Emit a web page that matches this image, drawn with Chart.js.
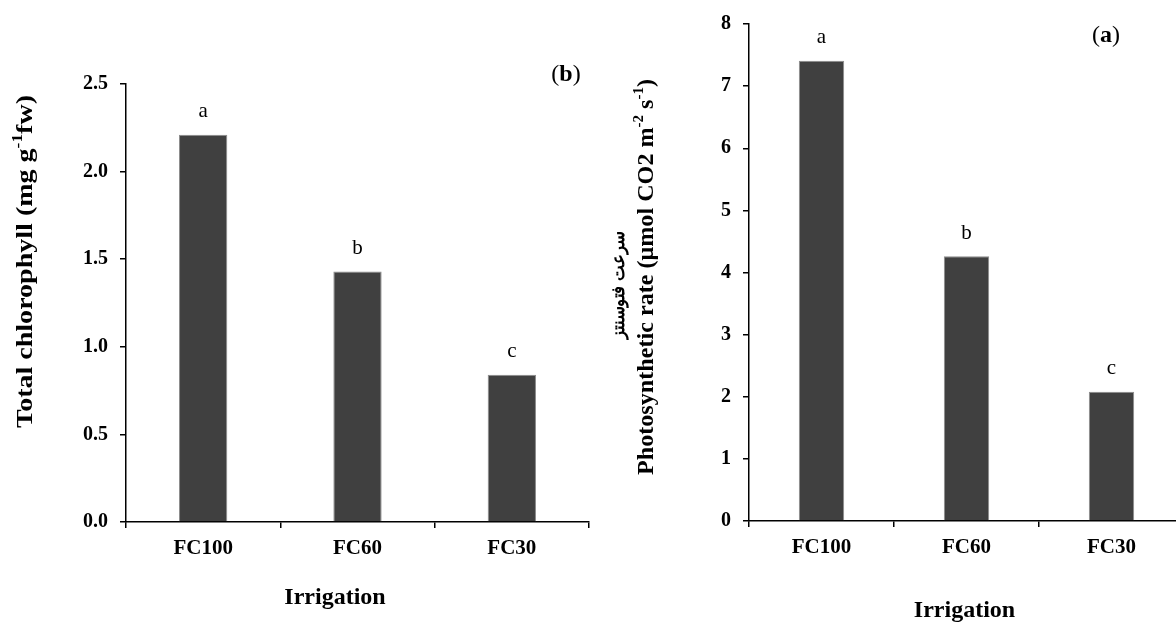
<!DOCTYPE html>
<html><head><meta charset="utf-8">
<script src="https://cdn.jsdelivr.net/npm/chart.js@4"></script>
<style>
html,body{margin:0;padding:0;background:#fff;overflow:hidden;width:1176px;height:623px;position:relative;}
.panel{position:absolute;top:0;width:600px;height:623px;}
#pl{left:0}
#pr{left:600px}
canvas{display:block}
</style></head><body>
<div class="panel" id="pl"><canvas id="cl" width="600" height="623"></canvas></div>
<div class="panel" id="pr"><canvas id="cr" width="600" height="623"></canvas></div>
<script>
// ---- data ----
const categories = ['FC100', 'FC60', 'FC30'];
const chlorophyll = [2.21, 1.43, 0.84];
const chlorophyllLetters = ['a', 'b', 'c'];
const photosynthesis = [7.41, 4.26, 2.08];
const photosynthesisLetters = ['a', 'b', 'c'];
const chlorophyllMax = 2.5, chlorophyllStep = 0.5;
const photoMax = 8, photoStep = 1;
const xTitle = 'Irrigation';
const chlTitle = [{t:'Total chlorophyll (mg g'}, {t:'-1', sup:true}, {t:'fw)'}];
const photoTitle = [{t:'Photosynthetic rate (\u03bcmol CO2 m'}, {t:'-2', sup:true}, {t:' s'}, {t:'-1', sup:true}, {t:')'}];
const photoTitleFa = 'سرعت فتوسنتز';

const FONT = "'Liberation Serif', 'Times New Roman', 'DejaVu Serif', serif";

// draws text centred at (cx, baseline cy); optional target length stretches along the text direction
function drawRich(ctx, parts, cx, cy, size, rotate, bold, targetLen) {
  ctx.save();
  ctx.translate(cx, cy);
  if (rotate) ctx.rotate(-Math.PI / 2);
  const w = bold ? 'bold ' : '';
  let total = 0;
  parts.forEach(p => {
    const s = p.sup ? size * 0.62 : size;
    ctx.font = (p.bold === false ? '' : w) + s + 'px ' + FONT;
    p.w = ctx.measureText(p.t).width;
    total += p.w;
  });
  if (targetLen) ctx.scale(targetLen / total, 1);
  let x = -total / 2;
  ctx.textBaseline = 'alphabetic';
  ctx.textAlign = 'left';
  ctx.fillStyle = '#000';
  parts.forEach(p => {
    const s = p.sup ? size * 0.62 : size;
    ctx.font = (p.bold === false ? '' : w) + s + 'px ' + FONT;
    ctx.fillText(p.t, x, p.sup ? -size * 0.42 : 0);
    x += p.w;
  });
  ctx.restore();
}

function letterPlugin(letters) {
  return {
    id: 'letters',
    afterDatasetsDraw(chart) {
      const ctx = chart.ctx;
      const meta = chart.getDatasetMeta(0);
      ctx.save();
      ctx.font = '21px ' + FONT;
      ctx.fillStyle = '#000';
      ctx.textAlign = 'center';
      ctx.textBaseline = 'alphabetic';
      meta.data.forEach((bar, i) => ctx.fillText(letters[i], bar.x, bar.y - 17.5));
      ctx.restore();
    }
  };
}

function makeChart(canvas, values, letters, cfg) {
  return new Chart(canvas, {
    type: 'bar',
    data: {
      labels: categories,
      datasets: [{
        data: values,
        backgroundColor: '#404040',
        borderColor: '#8c8c8c',
        borderWidth: 1,
        barPercentage: 0.313,
        categoryPercentage: 1
      }]
    },
    options: {
      responsive: false,
      animation: false,
      events: [],
      layout: {padding: {left: 0, right: cfg.padRight, top: cfg.top, bottom: cfg.padBottom}},
      plugins: {legend: {display: false}, tooltip: {enabled: false}},
      scales: {
        x: {
          offset: true,
          grid: {offset: true, drawOnChartArea: false, drawTicks: true, tickLength: 6, color: '#000', lineWidth: 1.5},
          border: {display: true, color: '#000', width: 1.5},
          ticks: {color: '#000', font: {family: FONT, size: 21, weight: 'bold'}, padding: 8, maxRotation: 0},
          afterFit: s => { s.height = 40; }
        },
        y: {
          min: 0, max: cfg.max,
          grid: {drawOnChartArea: false, drawTicks: true, tickLength: 6, color: '#000', lineWidth: 1.5},
          border: {display: true, color: '#000', width: 1.5},
          ticks: {stepSize: cfg.step, color: '#000', font: {family: FONT, size: 20, weight: 'bold'}, padding: 12,
                  callback: v => v.toFixed(cfg.decimals)},
          afterFit: s => { s.width = cfg.axisWidth; }
        }
      }
    },
    plugins: [letterPlugin(letters), {
      id: 'titles',
      afterDraw(chart) { cfg.drawTitles(chart.ctx, chart); }
    }]
  });
}

makeChart(document.getElementById('cl'), chlorophyll, chlorophyllLetters, {
  max: chlorophyllMax, step: chlorophyllStep, decimals: 1,
  axisWidth: 126, padRight: 11, top: 84, padBottom: 623 - 522 - 40,
  drawTitles(ctx, chart) {
    drawRich(ctx, chlTitle, 32, 261.5, 24, true, true, 333);
    drawRich(ctx, [{t: xTitle}], 335, 604, 24, false, true);
    drawRich(ctx, [{t:'(', bold:false}, {t:'b'}, {t:')', bold:false}], 566, 81, 24, false, true);
  }
});

makeChart(document.getElementById('cr'), photosynthesis, photosynthesisLetters, {
  max: photoMax, step: photoStep, decimals: 0,
  axisWidth: 149, padRight: 16, top: 24, padBottom: 623 - 521 - 40,
  drawTitles(ctx, chart) {
    drawRich(ctx, [{t: photoTitleFa}], 24, 285, 18, true, true, 108);
    drawRich(ctx, photoTitle, 53, 277, 24, true, true, 396);
    drawRich(ctx, [{t: xTitle}], 364.5, 617, 24, false, true);
    drawRich(ctx, [{t:'(', bold:false}, {t:'a'}, {t:')', bold:false}], 506, 42, 24, false, true);
  }
});
</script></body></html>
